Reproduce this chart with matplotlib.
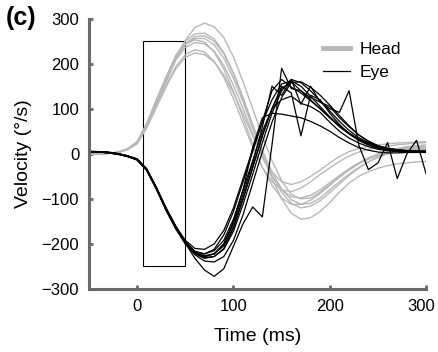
import numpy as np
import matplotlib
matplotlib.use("Agg")
import matplotlib.pyplot as plt
import matplotlib.transforms as mtransforms
from matplotlib.patches import Rectangle

plt.rcParams['font.family'] = ['Liberation Sans', 'DejaVu Sans']

# time samples (ms)
t = [-50, -40, -30, -20, -10, 0, 10, 20, 30, 40, 50, 60, 70, 80, 90, 100, 110, 120,
     130, 140, 150, 160, 170, 180, 190, 200, 210, 220, 230, 240, 250, 260, 270, 280, 290, 300]

# head velocity traces (deg/s)
head = [
    [0, 0, 1, 3, 9, 22, 58, 105, 158, 210, 252, 280, 290, 282, 258, 215, 160, 100, 40, -15, -60, -90, -100, -98, -85, -68, -50, -35, -22, -12, -4, 2, 6, 8, 9, 10],
    [0, 0, 1, 4, 11, 26, 66, 118, 170, 218, 250, 266, 268, 255, 225, 180, 125, 65, 8, -40, -78, -102, -112, -110, -98, -80, -62, -45, -30, -18, -8, 0, 6, 10, 12, 12],
    [0, 0, 1, 3, 10, 24, 62, 112, 165, 212, 244, 260, 262, 250, 222, 178, 122, 60, 0, -55, -100, -132, -145, -142, -128, -108, -85, -65, -50, -40, -32, -26, -22, -20, -18, -17],
    [0, 0, 1, 3, 10, 25, 64, 115, 166, 212, 242, 256, 256, 242, 212, 168, 115, 57, 0, -48, -85, -110, -120, -116, -104, -86, -67, -48, -32, -18, -7, 2, 8, 12, 14, 15],
    [0, 0, 1, 4, 11, 27, 68, 120, 170, 215, 243, 253, 248, 226, 188, 138, 80, 22, -30, -70, -98, -112, -112, -103, -88, -70, -52, -36, -22, -11, -2, 5, 10, 14, 16, 17],
    [0, 0, 1, 3, 10, 25, 63, 112, 162, 207, 236, 247, 244, 228, 196, 152, 100, 45, -8, -50, -80, -95, -98, -92, -80, -64, -48, -33, -20, -9, 0, 7, 12, 16, 18, 20],
    [0, 0, 1, 3, 10, 24, 60, 106, 152, 193, 220, 231, 226, 205, 170, 122, 68, 15, -30, -62, -80, -84, -76, -62, -46, -31, -17, -5, 4, 10, 14, 17, 20, 22, 24, 25],
    [0, 0, 1, 3, 10, 24, 58, 103, 148, 188, 214, 224, 220, 204, 175, 135, 88, 40, -5, -40, -62, -68, -62, -50, -36, -20, -6, 5, 12, 17, 20, 22, 24, 25, 26, 27],
]

# eye velocity traces (deg/s)
eye = [
    [6, 5, 4, 1, -4, -11, -33, -74, -120, -160, -192, -210, -212, -200, -170, -120, -55, 10, 70, 120, 155, 162, 150, 128, 105, 82, 62, 45, 32, 22, 15, 10, 7, 5, 4, 4],
    [5, 4, 3, 0, -5, -12, -35, -77, -124, -165, -197, -218, -222, -212, -180, -128, -62, 5, 72, 140, 165, 148, 135, 118, 100, 80, 62, 46, 33, 24, 16, 11, 8, 6, 5, 5],
    [4, 4, 2, -1, -6, -14, -37, -78, -122, -162, -198, -232, -258, -272, -255, -205, -155, -118, -140, 20, 190, 145, 140, 120, 100, 80, 60, 44, 30, 20, 12, 8, 5, 4, 4, 4],
    [5, 4, 3, 0, -5, -13, -36, -78, -125, -166, -200, -222, -228, -222, -200, -150, -80, 15, 80, 90, 88, 84, 80, 72, 62, 50, 36, 24, 14, 8, 4, 2, 2, 3, 3, 3],
    [5, 4, 2, -1, -6, -13, -36, -78, -124, -165, -198, -222, -232, -228, -210, -165, -100, -30, 40, 100, 150, 135, 40, 130, 120, 90, 65, 45, 30, 20, 13, 9, 7, 6, 5, 5],
    [5, 4, 3, 0, -5, -12, -34, -75, -120, -160, -195, -218, -226, -222, -204, -162, -100, -30, 40, 100, 145, 160, 140, 125, 115, 100, 92, 140, 20, -35, -20, 25, -55, 0, 30, -45],
    [5, 4, 3, 0, -5, -12, -35, -76, -122, -163, -196, -220, -230, -228, -212, -172, -112, -45, 25, 90, 140, 165, 158, 140, 118, 95, 72, 52, 36, 25, 17, 12, 9, 7, 6, 6],
    [5, 4, 2, -1, -6, -13, -36, -77, -123, -164, -198, -224, -238, -240, -228, -192, -135, -65, 5, 70, 125, 158, 160, 148, 130, 108, 85, 62, 42, 28, 18, 12, 9, 7, 6, 6],
    [5, 4, 3, 0, -5, -12, -34, -76, -121, -162, -195, -216, -222, -215, -192, -145, -80, -15, 50, 100, 120, 128, 112, 105, 92, 70, 50, 35, 24, 16, 10, 7, 5, 4, 4, 4],
    [5, 4, 3, 0, -5, -12, -35, -77, -123, -164, -197, -220, -228, -222, -200, -155, -90, -20, 60, 150, 130, 165, 110, 150, 115, 105, 80, 60, 42, 28, 18, 12, 9, 7, 6, 6],
]

# analysis window
win_t = [6, 50]
win_v = [-250, 250]

fig = plt.figure(figsize=(4.38, 3.52), dpi=100)
ax = fig.add_axes([0.203, 0.179, 0.770, 0.768])

for i, h in enumerate(head):
    ax.plot(t, h, color='#b8b8b8', lw=1.0, label='Head' if i == 0 else None)
for i, e in enumerate(eye):
    ax.plot(t, e, color='black', lw=0.9, label='Eye' if i == 0 else None)

ax.add_patch(Rectangle((win_t[0], win_v[0]), win_t[1] - win_t[0], win_v[1] - win_v[0],
                       fill=False, edgecolor='black', lw=0.8))

ax.set_xlim(-50, 300)
ax.set_ylim(-300, 300)
ax.set_xticks([0, 100, 200, 300])
ax.set_yticks([-300, -200, -100, 0, 100, 200, 300])
for s in ['top', 'right']:
    ax.spines[s].set_visible(False)
for s in ['left', 'bottom']:
    ax.spines[s].set_color('#6a6a6a')
    ax.spines[s].set_linewidth(2.2)
ax.tick_params(direction='in', length=3, width=2, color='#6a6a6a', labelsize=12, pad=7)

# nudge the last x label so it stays inside the picture
fig.canvas.draw()
lab = ax.get_xticklabels()[-1]
lab.set_transform(lab.get_transform() + mtransforms.ScaledTranslation(-5 / 100, 0, fig.dpi_scale_trans))

ax.set_xlabel('Time (ms)', fontsize=14, labelpad=10)
ax.set_ylabel('Velocity (\u00b0/s)', fontsize=14, labelpad=7)

leg = ax.legend(loc='upper left', bbox_to_anchor=(0.695, 0.915), frameon=False, fontsize=12.5,
                handlelength=1.55, handletextpad=0.57, borderaxespad=0, borderpad=0,
                labelspacing=0.45)
leg.get_lines()[0].set_linewidth(3.5)

fig.text(0.012, 0.948, '(c)', fontsize=18, fontweight='bold', va='center')

fig.savefig('out.png', dpi=100)
